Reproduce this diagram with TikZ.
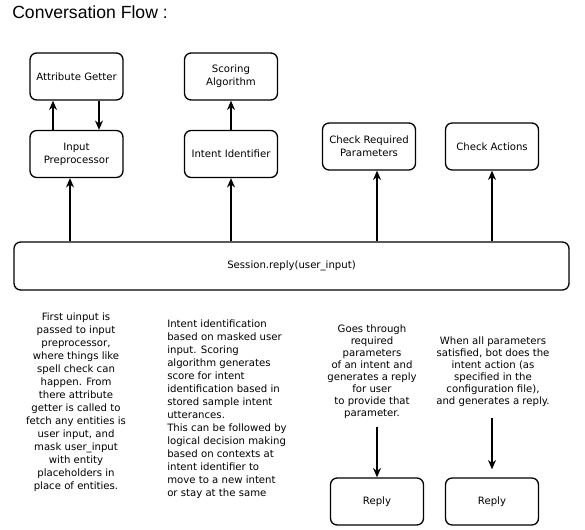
\documentclass[tikz,border=0pt]{standalone}
\usepackage{fontspec}
\setmainfont{DejaVu Sans}
\newfontfamily\titlefont{Liberation Sans}
\usepackage{tikz}
\usetikzlibrary{arrows,arrows.meta}
\newcommand\flowfont{\fontsize{7.6}{9.75}\selectfont}
\newcommand\notefont{\fontsize{7.6}{9}\selectfont}
\tikzstyle{arrow} = [line width=1.1pt,->,>={Stealth[length=7pt,width=6pt]}]
\tikzstyle{box} = [draw, line width=1pt, rounded corners=5pt, minimum width=69.75pt, minimum height=35.25pt, inner sep=1pt, align=center, font=\flowfont]
\tikzstyle{note} = [inner sep=0pt, align=center, font=\flowfont]

\begin{document}
\begin{tikzpicture}[x=0.75pt,y=-0.75pt]
	\useasboundingbox (0,0) rectangle (585,530);
	\clip (0,0) rectangle (585,530);

	% Title:
	\node [anchor=base west, inner sep=0pt, font=\titlefont\fontsize{13.2}{15}\selectfont] (title) at (12,19) {Conversation Flow :};

	% Boxes:
	\node [box] (attrget) at (76.5,76.5) {Attribute Getter};
	\node [box] (inprep) at (76.5,154) {Input\\Preprocessor};
	\node [box] (scoring) at (231,76.5) {Scoring\\Algorithm};
	\node [box] (intentid) at (231,154) {Intent Identifier};
	\node [box] (checkreq) at (369,146.5) {Check Required\\Parameters};
	\node [box] (checkact) at (492,146.5) {Check Actions};
	\node [box, minimum width=416.25pt, minimum height=36pt] (session) at (291.5,266) {Session.reply(user\_input)};
	\node [box] (reply1) at (377,501.5) {Reply};
	\node [box] (reply2) at (492,501.5) {Reply};

	% Arrows from the session up to the boxes:
	\draw [arrow] (session.north -| 70,0) -- (70,0 |- inprep.south);
	\draw [arrow] (session.north -| intentid) -- (intentid.south);
	\draw [arrow] (session.north -| 377,0) -- (377,0 |- checkreq.south);
	\draw [arrow] (session.north -| checkact) -- (checkact.south);

	% Between the boxes of the upper row:
	\draw [arrow] (inprep.north -| 53,0) -- (53,0 |- attrget.south);
	\draw [arrow] (attrget.south -| 99,0) -- (99,0 |- inprep.north);
	\draw [arrow] (intentid.north) -- (scoring.south);

	% Notes:
	\node [note, anchor=north] (preptext) at (76,313) {First uinput is\\passed to input\\preprocessor,\\where things like\\spell check can\\happen. From\\there attribute\\getter is called to\\fetch any entities is\\user input, and\\mask user\_input\\with entity\\placeholders in\\place of entities.};
	\node [note, anchor=north west, align=left] (intenttext) at (167,320) {Intent identification\\based on masked user\\input. Scoring\\algorithm generates\\score for intent\\identification based in\\stored sample intent\\utterances.\\This can be followed by\\logical decision making\\based on contexts at\\intent identifier to\\move to a new intent\\or stay at the same};
	\node [note, anchor=north, font=\notefont] (reqtext) at (372,325) {Goes through\\required\\parameters\\of an intent and\\generates a reply\\for user\\to provide that\\parameter.};
	\node [note, anchor=north, font=\notefont] (acttext) at (493,337) {When all parameters\\satisfied, bot does the\\intent action (as\\specified in the\\configuration file),\\and generates a reply.};

	% Down to the replies:
	\draw [arrow] ([yshift=-6pt]reqtext.south -| reply1.north) -- (reply1.north);
	\draw [arrow] ([yshift=-8pt]acttext.south -| reply2.north) -- ([yshift=6pt]reply2.north);

\end{tikzpicture}
\end{document}
